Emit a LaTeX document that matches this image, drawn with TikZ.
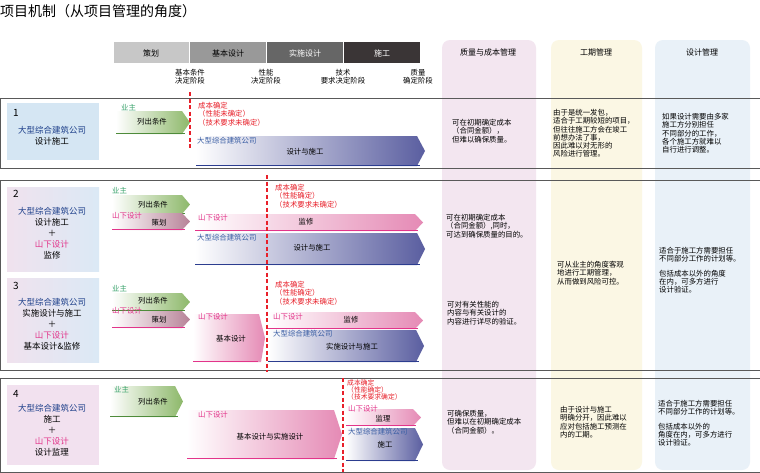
\documentclass[tikz,border=0pt]{standalone}
\usepackage{fontspec}
\setmainfont{Noto Sans CJK SC}
\definecolor{gr}{HTML}{3AA36C}
\definecolor{mg}{HTML}{E2348A}
\definecolor{bl}{HTML}{3A5EA4}
\definecolor{nv}{HTML}{1D3F8A}
\definecolor{rd}{HTML}{E8202A}
\definecolor{grR}{HTML}{8DB86A}
\definecolor{grL}{HTML}{4E8B3A}
\definecolor{blR}{HTML}{5A5EA0}
\definecolor{blL}{HTML}{2C3D8F}
\definecolor{pkR}{HTML}{E58AB5}
\definecolor{mvR}{HTML}{B78398}
\definecolor{colA}{HTML}{F3E6F0}
\definecolor{colB}{HTML}{FBF7E4}
\definecolor{colC}{HTML}{E9F1F8}
\definecolor{bx1}{HTML}{D5E6F3}
\definecolor{bxP}{HTML}{F0E2EE}
\definecolor{bxB}{HTML}{DBE9F5}
\definecolor{bx4}{HTML}{F2E1EF}
\definecolor{ph4}{HTML}{3A3536}
\newcommand\chev[7]{\shade[left color=#5,right color=#6] (#1,#2) -- (#3-8,#2) -- (#3,{(#2+#4)/2}) -- (#3-8,#4) -- (#1,#4) -- cycle;
 \draw[#7,line width=1.3pt] (#1,#4-0.7)--(#3-5,#4-0.7);}
\newcommand\grn[4]{\chev{#1}{#2}{#3}{#4}{white}{grR}{grL}}
\tikzset{
 t/.style={anchor=north west,align=left,font=\fontsize{7.4}{8.3}\selectfont,inner sep=0pt},
 c/.style={anchor=center,align=center,font=\fontsize{7.4}{8.3}\selectfont,inner sep=0pt},
 lb/.style={anchor=center,align=center,font=\fontsize{8.5}{11}\selectfont,inner sep=0pt},
 ph/.style={anchor=center,font=\fontsize{8}{9}\selectfont,inner sep=0pt},
 rdl/.style={rd,line width=1.3pt,dash pattern=on 4pt off 2.5pt},
 frm/.style={draw=black!65,line width=0.9pt}
}
\begin{document}
\begin{tikzpicture}[x=1pt,y=-1pt]
\useasboundingbox (0,0) rectangle (760,472);
\fill[white] (0,0) rectangle (760,472);
\node[anchor=west,inner sep=0pt,font=\fontsize{14}{16}\selectfont] (title) at (0,11) {项目机制（从项目管理的角度）};
% phase bar
\fill[black!22] (114,42) rectangle (189,63); \node[ph] (p1) at (151,53) {策划};
\fill[black!40] (190,42) rectangle (266,63); \node[ph] (p2) at (228,53) {基本设计};
\fill[black!60] (267,42) rectangle (343,63); \node[ph,white] (p3) at (305,53) {实施设计};
\fill[ph4] (344,42) rectangle (420,63); \node[ph,white] (p4) at (382,53) {施工};
\node[c] (m1) at (190,77) {基本条件\\决定阶段};
\node[c] (m2) at (266,77) {性能\\决定阶段};
\node[c] (m3) at (343,77) {技术\\要求决定阶段};
\node[c] (m4) at (418,77) {质量\\确定阶段};
% columns
\fill[rounded corners=8pt,colA] (442,40) rectangle (536,470);
\fill[rounded corners=8pt,colB] (551,40) rectangle (642,470);
\fill[rounded corners=8pt,colC] (655,40) rectangle (750,470);
\node[ph] (h1) at (488,52) {质量与成本管理};
\node[ph] (h2) at (596,52) {工期管理};
\node[ph] (h3) at (702,52) {设计管理};
% frames
\draw[frm] (0,98) rectangle (760,168);
\draw[frm] (0,180) rectangle (760,370);
\draw[frm] (0,378) rectangle (760,472);
% left boxes
\fill[bx1] (7,103) rectangle (99,160);
\shade[left color=bxP,right color=bxB] (7,187) rectangle (99,271);
\shade[left color=bxP,right color=bxB] (7,278) rectangle (99,362);
\fill[bx4] (7,385) rectangle (99,465);
\node[anchor=west,font=\fontsize{10}{10}\selectfont,inner sep=0pt] (n1) at (13,113) {1};
\node[lb] (l1) at (52,136) {\textcolor{nv}{大型综合建筑公司}\\设计施工};
\node[anchor=west,font=\fontsize{10}{10}\selectfont,inner sep=0pt] (n2) at (13,194) {2};
\node[lb] (l2) at (52,233) {\textcolor{nv}{大型综合建筑公司}\\设计施工\\＋\\\textcolor{mg}{山下设计}\\监修};
\node[anchor=west,font=\fontsize{10}{10}\selectfont,inner sep=0pt] (n3) at (13,286) {3};
\node[lb] (l3) at (52,324) {\textcolor{nv}{大型综合建筑公司}\\实施设计与施工\\＋\\\textcolor{mg}{山下设计}\\基本设计\&监修};
\node[anchor=west,font=\fontsize{10}{10}\selectfont,inner sep=0pt] (n4) at (13,394) {4};
\node[lb] (l4) at (52,430) {\textcolor{nv}{大型综合建筑公司}\\施工\\＋\\\textcolor{mg}{山下设计}\\设计监理};
% row1 arrows
\grn{116}{111}{190}{134}
\node[t,gr] (o1) at (121,104) {业主}; \node[c] (o1b) at (152,122) {列出条件};
\chev{196}{136}{425}{166}{white}{blR}{blL}
\node[t,bl] (b1) at (197,137) {大型综合建筑公司}; \node[c] (b1b) at (305,152) {设计与施工};
\node[t,rd] (r1) at (198,102) {成本确定\\（性能未确定）\\（技术要求未确定）};
% row2
\grn{112}{195}{190}{214}
\chev{112}{213}{190}{230}{white}{mvR}{mg}
\node[t,gr] (o2) at (112,187) {业主}; \node[c] (o2b) at (153,205) {列出条件};
\node[t,mg] (y2) at (112,212) {山下设计}; \node[c] (y2b) at (159,223) {策划};
\chev{195}{214}{423}{231}{white}{pkR}{mg}
\node[t,mg] (y2c) at (198,214) {山下设计}; \node[c] (y2d) at (306,222) {监修};
\chev{195}{233}{425}{265}{white}{blR}{blL}
\node[t,bl] (b2) at (197,234) {大型综合建筑公司}; \node[c] (b2b) at (312,248) {设计与施工};
\node[t,rd] (r2) at (275,184) {成本确定\\（性能确定）\\（技术要求未确定）};
% row3
\grn{112}{293}{190}{311}
\chev{112}{311}{190}{328}{white}{mvR}{mg}
\node[t,gr] (o3) at (112,285) {业主}; \node[c] (o3b) at (153,301) {列出条件};
\node[t,mg] (y3) at (112,307) {山下设计}; \node[c] (y3b) at (159,320) {策划};
\shade[left color=white,right color=pkR] (193,314) -- (259,314) -- (265,338) -- (261,362) -- (193,362) -- cycle;
\draw[mg,line width=1.3pt] (193,361.3) -- (258,361.3);
\node[t,mg] (y3c) at (198,313) {山下设计}; \node[c] (y3d) at (231,339) {基本设计};
\chev{268}{312}{423}{329}{white}{pkR}{mg}
\node[t,mg] (y3e) at (273,313) {山下设计}; \node[c] (y3f) at (351,320) {监修};
\chev{268}{330}{424}{362}{white}{blR}{blL}
\node[t,bl] (b3) at (273,330) {大型综合建筑公司}; \node[c] (b3b) at (352,347) {实施设计与施工};
\node[t,rd] (r3) at (275,281) {成本确定\\（性能确定）\\（技术要求未确定）};
% row4
\grn{110}{386}{183}{417}
\node[t,gr] (o4) at (114,386) {业主}; \node[c] (o4b) at (153,402) {列出条件};
\chev{187}{410}{342}{459}{white}{pkR}{mg}
\node[t,mg] (y4) at (198,411) {山下设计}; \node[c] (y4b) at (270,437) {基本设计与实施设计};
\chev{346}{409}{421}{426}{white}{pkR}{mg}
\node[t,mg] (y4c) at (348,405) {山下设计}; \node[c] (y4d) at (383,419) {监理};
\chev{346}{428}{423}{461}{white}{blR}{blL}
\node[t,bl] (b4) at (348,428) {大型综合建筑公司}; \node[c] (b4b) at (385,445) {施工};
\node[t,rd,font=\fontsize{6.8}{7}\selectfont] (r4) at (347,380) {成本确定\\（性能确定）\\（技术要求确定）};
% red dashed lines
\draw[rdl] (190,92) -- (190,150);
\draw[rdl] (267,175) -- (267,372);
\draw[rdl] (343,378) -- (343,472);
% right texts
\node[t] (q1) at (452,119) {可在初期确定成本\\（合同金额），\\但难以确保质量。};
\node[t] (s1) at (553,109) {由于是统一发包，\\适合于工期较短的项目，\\但往往施工方会在竣工\\前想办法了事，\\因此难以对无形的\\风险进行管理。};
\node[t] (d1) at (662,113) {如果设计需要由多家\\施工方分别担任\\不同部分的工作，\\各个施工方就难以\\自行进行调整。};
\node[t] (q2) at (446,214) {可在初期确定成本\\（合同金额）,同时，\\可达到确保质量的目的。};
\node[t] (s2) at (557,261) {可从业主的角度客观\\地进行工期管理，\\从而做到风险可控。};
\node[t] (d2) at (659,247) {适合于施工方需要担任\\不同部分工作的计划等。\\[6pt]包括成本以外的角度\\在内，可多方进行\\设计验证。};
\node[t] (q3) at (447,301) {可对有关性能的\\内容与有关设计的\\内容进行详尽的验证。};
\node[t] (q4) at (447,410) {可确保质量，\\但难以在初期确定成本\\（合同金额）。};
\node[t] (s4) at (560,406) {由于设计与施工\\明确分开，因此难以\\应对包括施工预测在\\内的工期。};
\node[t] (d4) at (658,400) {适合于施工方需要担任\\不同部分工作的计划等。\\[6pt]包括成本以外的\\角度在内，可多方进行\\设计验证。};
\end{tikzpicture}
\end{document}
